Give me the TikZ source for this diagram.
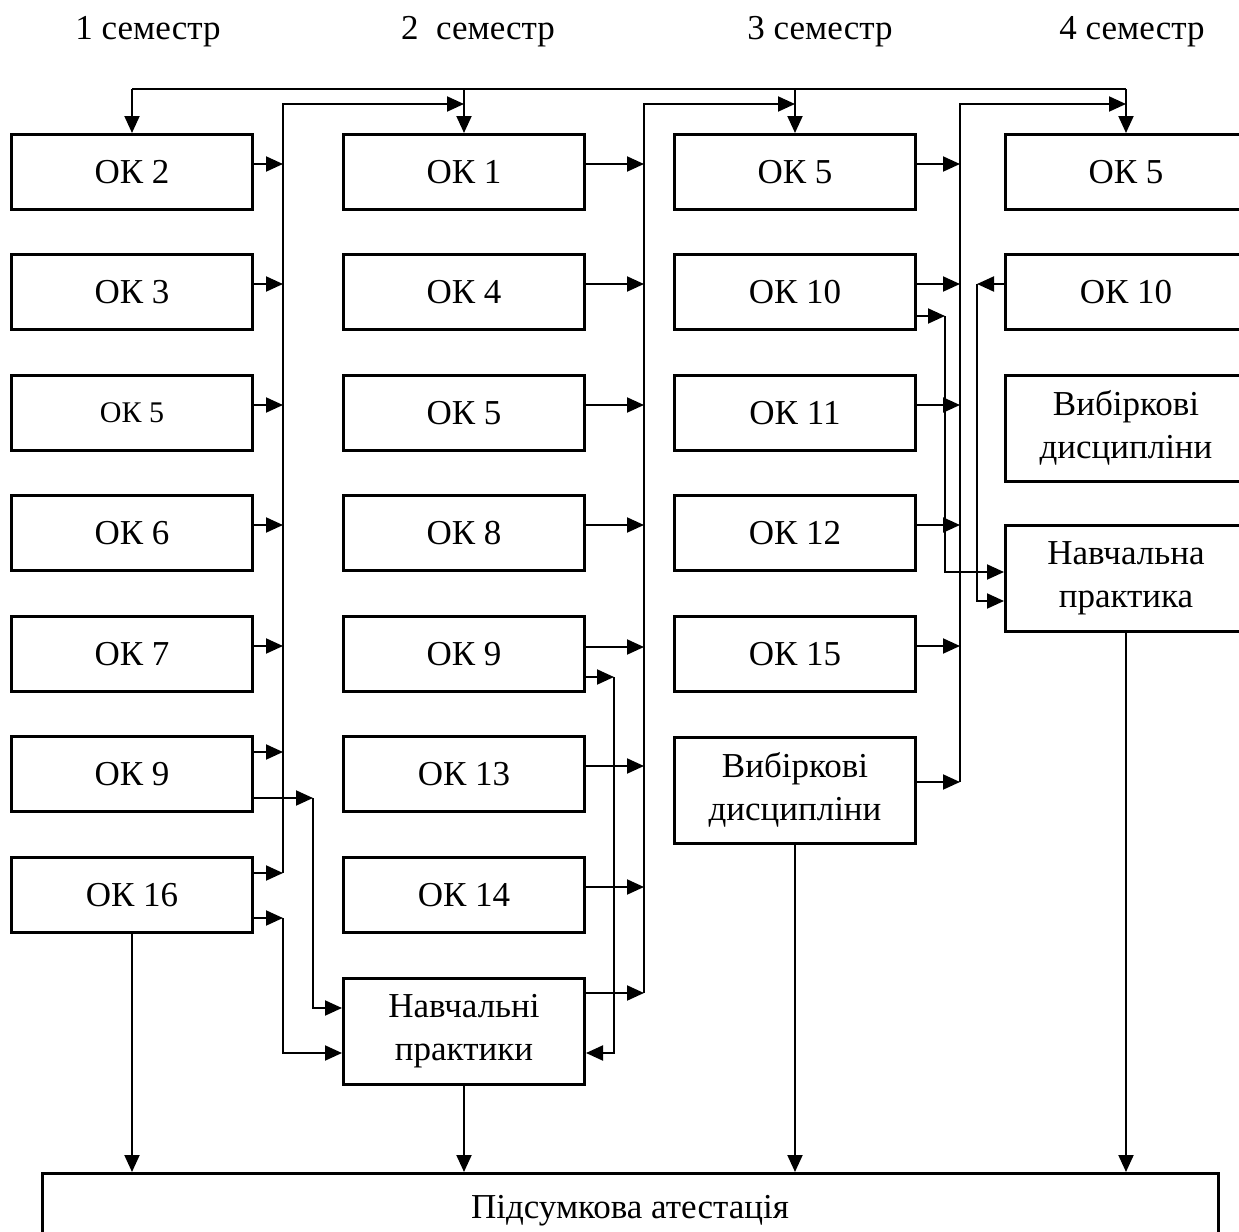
\documentclass[tikz,border=0pt]{standalone}
\usepackage{fontspec}
\setmainfont{Liberation Serif}
\usetikzlibrary{arrows.meta,calc}
\tikzset{
  box/.style={draw,line width=1.5pt,minimum width=120.5pt,minimum height=37.5pt,
    inner sep=2pt,align=center,font=\fontsize{17.5}{21.5}\selectfont},
  tall/.style={box,minimum height=53pt},
  ln/.style={line width=1pt},
  arr/.style={line width=1pt,-{Triangle[length=8.5pt,width=7.5pt]}},
  sem/.style={font=\fontsize{17.5}{21}\selectfont},
}
\begin{document}
\begin{tikzpicture}[x=0.5pt,y=-0.5pt]
\path[use as bounding box,clip] (0,0) rectangle (1239,1232);
% семестри
\foreach \x/\t [count=\i] in {148/1 семестр,478/2~ семестр,820/3 семестр,1132/4 семестр}
  \node[sem] (s\i) at (\x,32) {\t};
% 1 семестр
\foreach \n/\y/\t in {a2/172/ОК 2,a3/292/ОК 3,a6/533/ОК 6,a7/654/ОК 7,a9/774/ОК 9,a16/895/ОК 16}
  \node[box] (\n) at (132,\y) {\t};
\node[box,font=\fontsize{15}{18}\selectfont] (a5) at (132,413) {ОК 5};
% 2 семестр
\foreach \n/\y/\t in {b1/172/ОК 1,b4/292/ОК 4,b5/413/ОК 5,b8/533/ОК 8,b9/654/ОК 9,b13/774/ОК 13,b14/895/ОК 14}
  \node[box] (\n) at (464,\y) {\t};
\node[tall] (bprac) at (464,1031) {Навчальні\\практики};
% 3 семестр
\foreach \n/\y/\t in {c5/172/ОК 5,c10/292/ОК 10,c11/413/ОК 11,c12/533/ОК 12,c15/654/ОК 15}
  \node[box] (\n) at (795,\y) {\t};
\node[tall] (cvyb) at (795,790) {Вибіркові\\дисципліни};
% 4 семестр
\node[box] (d5) at (1126,172) {ОК 5};
\node[box] (d10) at (1126,292) {ОК 10};
\node[tall] (dvyb) at (1126,428) {Вибіркові\\дисципліни};
\node[tall] (dprac) at (1126,578) {Навчальна\\практика};
\node[box,minimum width=588pt] (fin) at (630,1211) {Підсумкова атестація};

% шини
\coordinate (top) at (0,89);
\coordinate (xI) at (283,104);
\coordinate (xIb) at (313,0);
\coordinate (xII) at (644,104);
\coordinate (xIIb) at (614,0);
\coordinate (xIII) at (960,104);
\coordinate (xIIIb) at (945,0);
\coordinate (xIIIc) at (977,0);

% виходи
\coordinate (a9-u) at ([yshift=11pt]a9.east);
\coordinate (a9-l) at ([yshift=-12pt]a9.east);
\coordinate (a16-u) at ([yshift=11pt]a16.east);
\coordinate (a16-l) at ([yshift=-11.5pt]a16.east);
\coordinate (b9-u) at ([yshift=3.5pt]b9.east);
\coordinate (b9-l) at ([yshift=-11.5pt]b9.east);
\coordinate (c10-u) at ([yshift=4pt]c10.east);
\coordinate (c10-l) at ([yshift=-12pt]c10.east);
\coordinate (d10-o) at ([yshift=4pt]d10.west);
\coordinate (cvyb-o) at ([yshift=4pt]cvyb.east);
\coordinate (bprac-o) at ([yshift=19pt]bprac.east);
\coordinate (bprac-i1) at ([yshift=11.5pt]bprac.west);
\coordinate (bprac-i2) at ([yshift=-11pt]bprac.west);
\coordinate (bprac-i3) at ([yshift=-11pt]bprac.east);
\coordinate (dprac-i1) at ([yshift=3pt]dprac.west);
\coordinate (dprac-i2) at ([yshift=-11.5pt]dprac.west);

% верхня шина
\draw[ln] (a2.north|-top) -- (d5.north|-top);
\foreach \n in {a2,b1,c5,d5}
  \draw[arr] (\n.north|-top) -- (\n.north);
\draw[arr] (a16-u -| xI) |- (b1.north|-xI);
\draw[arr] (bprac-o -| xII) |- (c5.north|-xII);
\draw[arr] (cvyb-o -| xIII) |- (d5.north|-xIII);

% 1 -> 2
\foreach \n in {a2,a3,a5,a6,a7}{
  \coordinate (\n-o) at ([yshift=4pt]\n.east);
  \draw[arr] (\n-o) -- (\n-o -| xI);
}
\draw[arr] (a9-u) -- (a9-u -| xI);
\draw[arr] (a16-u) -- (a16-u -| xI);
\draw[arr] (a9-l) -- (a9-l -| xIb);
\draw[arr] (a9-l -| xIb) |- (bprac-i1);
\draw[arr] (a16-l) -- (a16-l -| xI);
\draw[arr] (a16-l -| xI) |- (bprac-i2);

% 2 -> 3
\foreach \n in {b1,b4,b5,b8,b13,b14}{
  \coordinate (\n-o) at ([yshift=4pt]\n.east);
  \draw[arr] (\n-o) -- (\n-o -| xII);
}
\draw[arr] (b9-u) -- (b9-u -| xII);
\draw[arr] (bprac-o) -- (bprac-o -| xII);
\draw[arr] (b9-l) -- (b9-l -| xIIb);
\draw[arr] (b9-l -| xIIb) |- (bprac-i3);

% 3 -> 4
\foreach \n in {c5,c11,c12,c15}{
  \coordinate (\n-o) at ([yshift=4pt]\n.east);
  \draw[arr] (\n-o) -- (\n-o -| xIII);
}
\draw[arr] (c10-u) -- (c10-u -| xIII);
\draw[arr] (cvyb-o) -- (cvyb-o -| xIII);
\draw[arr] (c10-l) -- (c10-l -| xIIIb);
\draw[arr] (c10-l -| xIIIb) |- (dprac-i1);
\draw[arr] (d10-o) -- (d10-o -| xIIIc);
\draw[arr] (d10-o -| xIIIc) |- (dprac-i2);

% атестація
\foreach \n in {a16,bprac,cvyb,dprac}
  \draw[arr] (\n.south) -- (\n.south|-fin.north);
\end{tikzpicture}
\end{document}
